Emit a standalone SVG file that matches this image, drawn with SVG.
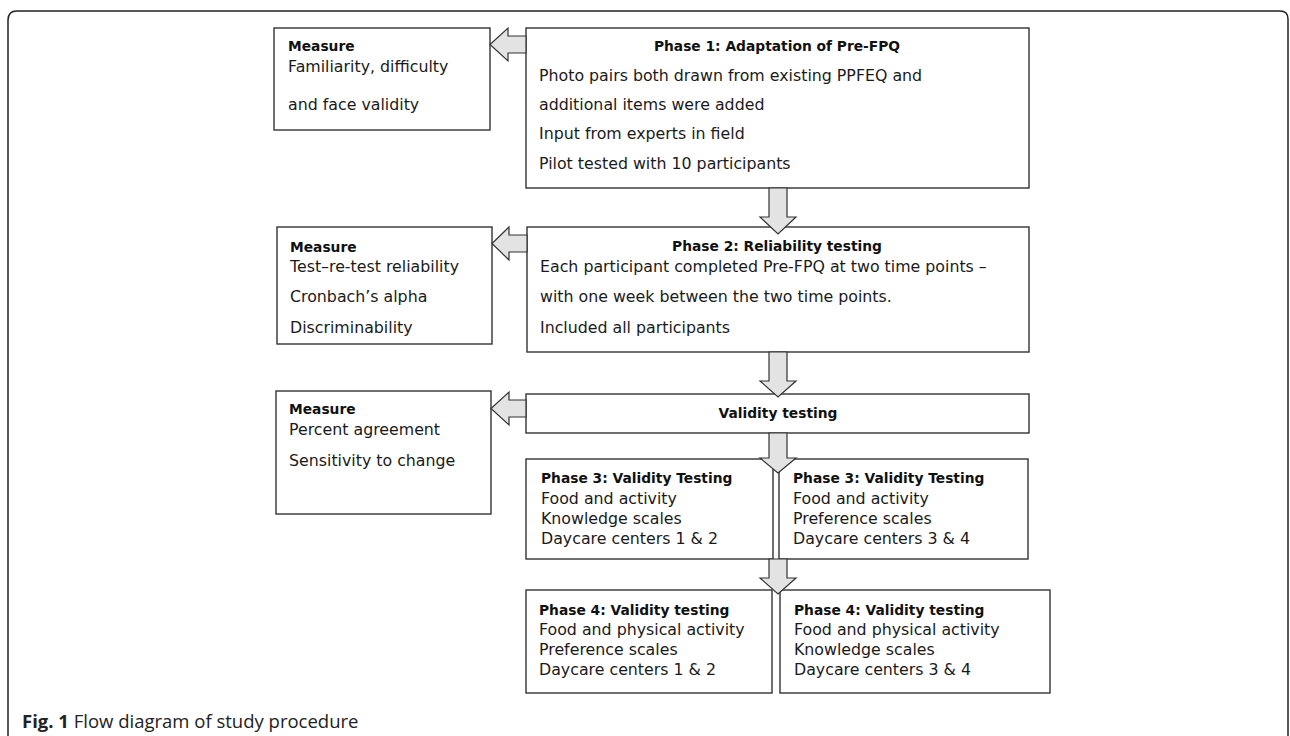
<svg xmlns="http://www.w3.org/2000/svg" width="1290" height="736" viewBox="0 0 1290 736">
<style>
.bx{fill:#fff;stroke:#333;stroke-width:1.4}
.ar{fill:#e3e3e3;stroke:#333;stroke-width:1.2;stroke-linejoin:miter}
.t{font-family:"DejaVu Sans",sans-serif;font-size:15.8px;fill:#1a1a1a}
.b{font-family:"DejaVu Sans",sans-serif;font-size:13.8px;font-weight:bold;fill:#111}
.c{text-anchor:middle}
.cap{font-family:"Open Sans",sans-serif;font-size:18.5px;fill:#222}
</style>
<rect width="1290" height="736" fill="#fff"/>
<path d="M8,745 L8,20 Q8,11 17,11 L1280,11 Q1288,11 1288,19 L1288,745" fill="none" stroke="#222" stroke-width="1.5"/>

<g id="measure1">
<rect class="bx" x="274" y="28" width="216" height="102"/>
<text class="b" x="288" y="51">Measure</text>
<text class="t" x="288" y="72">Familiarity, difficulty</text>
<text class="t" x="288" y="110">and face validity</text>
</g>
<g id="phase1">
<rect class="bx" x="526" y="28" width="503" height="160"/>
<text class="b c" x="777" y="51">Phase 1: Adaptation of Pre-FPQ</text>
<text class="t" x="539" y="81">Photo pairs both drawn from existing PPFEQ and</text>
<text class="t" x="539" y="110">additional items were added</text>
<text class="t" x="539" y="139">Input from experts in field</text>
<text class="t" x="539" y="169">Pilot tested with 10 participants</text>
</g>
<g id="measure2">
<rect class="bx" x="277" y="227" width="215" height="117"/>
<text class="b" x="290" y="252">Measure</text>
<text class="t" x="290" y="272">Test–re-test reliability</text>
<text class="t" x="290" y="302">Cronbach’s alpha</text>
<text class="t" x="290" y="333">Discriminability</text>
</g>
<g id="phase2">
<rect class="bx" x="527" y="227" width="502" height="125"/>
<text class="b c" x="777" y="251">Phase 2: Reliability testing</text>
<text class="t" x="540" y="272">Each participant completed Pre-FPQ at two time points –</text>
<text class="t" x="540" y="302">with one week between the two time points.</text>
<text class="t" x="540" y="333">Included all participants</text>
</g>
<g id="measure3">
<rect class="bx" x="276" y="391" width="215" height="123"/>
<text class="b" x="289" y="414">Measure</text>
<text class="t" x="289" y="435">Percent agreement</text>
<text class="t" x="289" y="466">Sensitivity to change</text>
</g>
<g id="validity">
<rect class="bx" x="526" y="394" width="503" height="39"/>
<text class="b c" x="778" y="418">Validity testing</text>
</g>
<g id="phase3a">
<rect class="bx" x="526" y="459" width="247" height="100"/>
<text class="b" x="541" y="483">Phase 3: Validity Testing</text>
<text class="t" x="541" y="504">Food and activity</text>
<text class="t" x="541" y="524">Knowledge scales</text>
<text class="t" x="541" y="544">Daycare centers 1 &amp; 2</text>
</g>
<g id="phase3b">
<rect class="bx" x="779" y="459" width="249" height="100"/>
<text class="b" x="793" y="483">Phase 3: Validity Testing</text>
<text class="t" x="793" y="504">Food and activity</text>
<text class="t" x="793" y="524">Preference scales</text>
<text class="t" x="793" y="544">Daycare centers 3 &amp; 4</text>
</g>
<g id="phase4a">
<rect class="bx" x="526" y="590" width="246" height="103"/>
<text class="b" x="539" y="615">Phase 4: Validity testing</text>
<text class="t" x="539" y="635">Food and physical activity</text>
<text class="t" x="539" y="655">Preference scales</text>
<text class="t" x="539" y="675">Daycare centers 1 &amp; 2</text>
</g>
<g id="phase4b">
<rect class="bx" x="780" y="590" width="270" height="103"/>
<text class="b" x="794" y="615">Phase 4: Validity testing</text>
<text class="t" x="794" y="635">Food and physical activity</text>
<text class="t" x="794" y="655">Knowledge scales</text>
<text class="t" x="794" y="675">Daycare centers 3 &amp; 4</text>
</g>

<g id="connectors">
<polygon class="ar" points="526,36 508,36 508,28 490,44.5 508,61 508,53 526,53"/>
<polygon class="ar" points="527,235 509,235 509,227 492,243.5 509,260 509,252 527,252"/>
<polygon class="ar" points="526,400 509,400 509,392 491,408.5 509,425 509,417 526,417"/>
<polygon class="ar" points="769,188 787,188 787,217 796,217 778,234 760,217 769,217"/>
<polygon class="ar" points="769,352 787,352 787,381 796,381 778,397 760,381 769,381"/>
<polygon class="ar" points="769,433 787,433 787,458 796,458 778,473 760,458 769,458"/>
<polygon class="ar" points="769,559 787,559 787,578 796,578 778,594 760,578 769,578"/>
</g>

<text class="cap" x="22" y="728"><tspan font-weight="bold">Fig. 1</tspan> Flow diagram of study procedure</text>
</svg>
